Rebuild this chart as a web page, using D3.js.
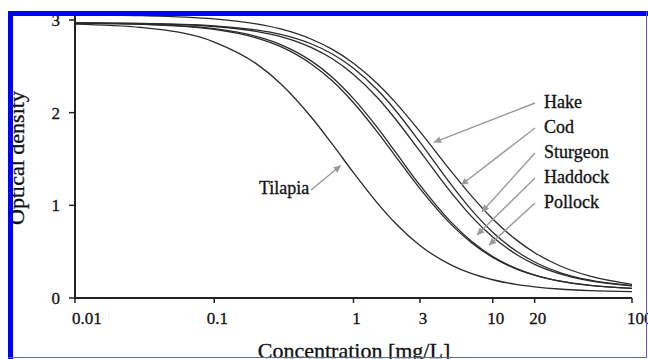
<!DOCTYPE html>
<html><head><meta charset="utf-8">
<script src="https://cdn.jsdelivr.net/npm/d3@7"></script>
<style>html,body{margin:0;padding:0;background:#fff;}svg{display:block;} text{stroke:#111;stroke-width:0.3px;}</style>
</head><body>
<script>
// ---- data ----
const concentrations = [0.01,0.03,0.1,0.2,0.3,0.5,0.7,1,1.5,2,3,5,7,10,15,20,30,50,100];
const tilapia  = [2.956,2.919,2.762,2.529,2.313,1.948,1.665,1.352,1.016,0.807,0.567,0.358,0.265,0.197,0.145,0.121,0.097,0.080,0.069];
const haddock  = [2.966,2.953,2.898,2.807,2.712,2.523,2.346,2.107,1.782,1.531,1.180,0.797,0.599,0.438,0.310,0.246,0.183,0.136,0.104];
const pollock  = [2.966,2.955,2.906,2.823,2.735,2.556,2.386,2.152,1.830,1.576,1.217,0.821,0.615,0.448,0.314,0.248,0.184,0.136,0.104];
const sturgeon = [2.968,2.961,2.930,2.877,2.821,2.702,2.584,2.412,2.155,1.932,1.584,1.142,0.883,0.657,0.464,0.362,0.262,0.184,0.131];
const cod      = [2.968,2.963,2.937,2.893,2.845,2.741,2.636,2.480,2.239,2.026,1.681,1.228,0.954,0.710,0.499,0.388,0.277,0.192,0.134];
const hake     = [3.056,3.047,3.012,2.958,2.903,2.792,2.685,2.533,2.306,2.111,1.795,1.371,1.104,0.852,0.619,0.489,0.351,0.235,0.148];
const seriesNames = ["Tilapia","Haddock","Pollock","Sturgeon","Cod","Hake"];
const seriesValues = [tilapia, haddock, pollock, sturgeon, cod, hake];
const xTickValues = [0.01, 0.1, 1, 3, 10, 20, 100];
const xTickLabels = ["0.01","0.1","1","3","10","20","100"];
const yTickValues = [0, 1, 2, 3];
// arrow targets (concentration, optical density)
const labelNames = ["Hake","Cod","Sturgeon","Haddock","Pollock"];
const arrowTipConc = [3.78, 5.92, 8.37, 7.71, 9.40];
const arrowTipOD   = [1.68, 1.22, 0.93, 0.68, 0.57];
const tilapiaTipConc = 0.81, tilapiaTipOD = 1.43;

const W = 648, H = 359;
const svg = d3.select("body").append("svg").attr("width", W).attr("height", H);
svg.append("rect").attr("width", W).attr("height", H).attr("fill", "#fff");

const x = d3.scaleLog().domain([0.01, 100]).range([75, 632]);
const y = d3.scaleLinear().domain([0, 3]).range([298, 20]);
const serif = "'Liberation Serif','Times New Roman',serif";

// curves
const line = d3.line().x(d => x(d[0])).y(d => y(d[1])).curve(d3.curveMonotoneX);
seriesValues.forEach((vals, i) => {
  svg.append("path")
    .datum(concentrations.map((c, j) => [c, vals[j]]))
    .attr("d", line).attr("fill", "none")
    .attr("stroke", "#2a2a2a").attr("stroke-width", 1.3);
});

// axes
const axisColor = "#222";
svg.append("line").attr("x1", x(0.01)).attr("x2", x(100)).attr("y1", y(0)).attr("y2", y(0))
  .attr("stroke", axisColor).attr("stroke-width", 2);
svg.append("line").attr("x1", x(0.01)).attr("x2", x(0.01)).attr("y1", y(0) + 1).attr("y2", 14)
  .attr("stroke", axisColor).attr("stroke-width", 2);
xTickValues.forEach((v, i) => {
  svg.append("line").attr("x1", x(v)).attr("x2", x(v)).attr("y1", y(0)).attr("y2", y(0) + 5)
    .attr("stroke", axisColor).attr("stroke-width", 1.5);
  const t = svg.append("text").attr("y", 324).attr("font-family", serif).attr("font-size", 17)
    .attr("fill", "#111").text(xTickLabels[i]);
  if (i === 0) t.attr("x", x(v) - 3).attr("text-anchor", "start");
  else if (i === xTickLabels.length - 1) t.attr("x", x(v) - 5).attr("text-anchor", "start");
  else t.attr("x", x(v) + 3).attr("text-anchor", "middle");
});
yTickValues.forEach(v => {
  svg.append("line").attr("x1", x(0.01) - 6).attr("x2", x(0.01)).attr("y1", y(v)).attr("y2", y(v))
    .attr("stroke", axisColor).attr("stroke-width", 1.5);
  svg.append("text").attr("x", 60).attr("y", y(v)).attr("dy", "0.35em").attr("text-anchor", "end")
    .attr("font-family", serif).attr("font-size", 17).attr("fill", "#111").text(v);
});

// axis titles
svg.append("text").attr("x", 354).attr("y", 357.5).attr("text-anchor", "middle")
  .attr("font-family", serif).attr("font-size", 22).attr("fill", "#111").text("Concentration [mg/L]");
svg.append("text").attr("transform", "translate(24,158) rotate(-90)").attr("text-anchor", "middle")
  .attr("font-family", serif).attr("font-size", 22).attr("fill", "#111").text("Optical density");

// arrows
const defs = svg.append("defs");
defs.append("marker").attr("id", "ah").attr("viewBox", "0 0 10 10").attr("refX", 10).attr("refY", 5)
  .attr("markerWidth", 10).attr("markerHeight", 7).attr("markerUnits", "userSpaceOnUse").attr("orient", "auto")
  .append("path").attr("d", "M0,0 L10,5 L0,10 Z").attr("fill", "#9a9a9a");
const arrowColor = "#9a9a9a";
labelNames.forEach((name, i) => {
  const by = 108 + i * 25;
  svg.append("line").attr("x1", 535).attr("y1", by - 5).attr("x2", x(arrowTipConc[i])).attr("y2", y(arrowTipOD[i]))
    .attr("stroke", arrowColor).attr("stroke-width", 1.4).attr("marker-end", "url(#ah)");
  svg.append("text").attr("x", 544).attr("y", by).attr("font-family", serif).attr("font-size", 18)
    .attr("fill", "#111").text(name);
});
svg.append("line").attr("x1", 311).attr("y1", 190).attr("x2", x(tilapiaTipConc)).attr("y2", y(tilapiaTipOD))
  .attr("stroke", arrowColor).attr("stroke-width", 1.4).attr("marker-end", "url(#ah)");
svg.append("text").attr("x", 259).attr("y", 194).attr("font-family", serif).attr("font-size", 18)
  .attr("fill", "#111").text("Tilapia");

// frame
svg.append("rect").attr("x", 8).attr("y", 11).attr("width", W - 8).attr("height", 5).attr("fill", "#0000ff");
svg.append("rect").attr("x", 8).attr("y", 11).attr("width", 5).attr("height", H - 11).attr("fill", "#0000ff");
svg.append("line").attr("x1", 646.5).attr("x2", 646.5).attr("y1", 11).attr("y2", 358).attr("stroke", "#5a5aff").attr("stroke-width", 1);
svg.append("line").attr("x1", 8).attr("x2", 647).attr("y1", 357.5).attr("y2", 357.5).attr("stroke", "#5a5aff").attr("stroke-width", 1);
</script>
</body></html>
